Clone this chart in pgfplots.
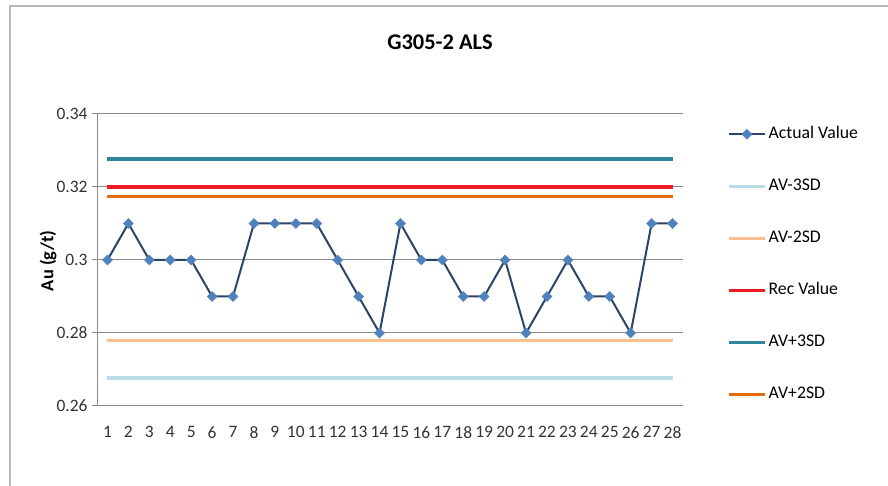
\documentclass[border=0pt]{standalone}
\usepackage{pgfplots}
\pgfplotsset{compat=1.18}
\usepackage{fontspec}
\setmainfont{Carlito}
\definecolor{actline}{HTML}{2B4468}
\definecolor{actmark}{HTML}{4F81BD}
\definecolor{avm3}{HTML}{B7DEE8}
\definecolor{avm2}{HTML}{FAC090}
\definecolor{recv}{HTML}{EE1C25}
\definecolor{avp3}{HTML}{31859C}
\definecolor{avp2}{HTML}{E46C0A}
\definecolor{gridc}{HTML}{8C8C8C}
\begin{document}
\begin{tikzpicture}
\useasboundingbox (0bp,0bp) rectangle (888bp,486bp);
\draw[color=gray!55, line width=1.5bp] (10bp,0bp) -- (10bp,480bp) -- (888bp,480bp);
\node[font=\fontsize{22.5}{26}\selectfont\bfseries] at (440bp,444bp) {G305-2 ALS};
\begin{axis}[
  at={(97bp,80bp)}, anchor=south west,
  scale only axis, width=586bp, height=292bp,
  xmin=0.5, xmax=28.5, ymin=0.26, ymax=0.34,
  xtick={1,...,28},
  ytick={0.26,0.28,0.30,0.32,0.34},
  yticklabels={0.26,0.28,0.3,0.32,0.34},
  axis x line*=bottom, axis y line*=left,
  axis line style={draw=gridc, line width=1bp},
  x axis line style={-}, y axis line style={-},
  ymajorgrids, major grid style={draw=gridc, line width=1bp},
  tick align=outside, major tick length=5bp,
  xtick style={draw=none}, ytick style={draw=gridc, line width=1bp},
  /pgf/number format/assume math mode=true,
  tick label style={font=\fontsize{17.5}{20}\selectfont, text=black!80},
  xticklabel style={yshift=-12bp},
  yticklabel style={xshift=-1bp},
  ylabel={Au (g/t)},
  ylabel style={at={(axis description cs:-0.0836,0.497)}, anchor=center, font=\fontsize{18.5}{22}\selectfont\bfseries},
  legend image code/.code={\draw[#1, mark repeat=2, mark phase=2] plot coordinates {(0bp,0bp) (18bp,0bp) (36bp,0bp)};},
  legend cell align=left,
  legend style={draw=none, fill=none, at={(1.075,0.962)}, anchor=north west, inner sep=0pt,
    row sep=34bp, font=\fontsize{17.8}{20}\selectfont,
    nodes={text height=11bp, text depth=3bp, inner sep=2bp}},
]
\addplot[color=actline, line width=2bp, mark=square*, mark size=3.5bp, mark options={rotate=45, draw=actmark, fill=actmark, line width=0.5bp}] coordinates {
(1,0.30) (2,0.31) (3,0.30) (4,0.30) (5,0.30) (6,0.29) (7,0.29) (8,0.31) (9,0.31) (10,0.31)
(11,0.31) (12,0.30) (13,0.29) (14,0.28) (15,0.31) (16,0.30) (17,0.30) (18,0.29) (19,0.29) (20,0.30)
(21,0.28) (22,0.29) (23,0.30) (24,0.29) (25,0.29) (26,0.28) (27,0.31) (28,0.31)};
\addlegendentry{Actual Value}
\addplot[color=avm3, line width=3.5bp] coordinates {(1,0.2677) (28,0.2677)};
\addlegendentry{AV-3SD}
\addplot[color=avm2, line width=3.5bp] coordinates {(1,0.2779) (28,0.2779)};
\addlegendentry{AV-2SD}
\addplot[color=recv, line width=3.5bp] coordinates {(1,0.32) (28,0.32)};
\addlegendentry{Rec Value}
\addplot[color=avp3, line width=3.5bp] coordinates {(1,0.3277) (28,0.3277)};
\addlegendentry{AV+3SD}
\addplot[color=avp2, line width=3.5bp] coordinates {(1,0.3174) (28,0.3174)};
\addlegendentry{AV+2SD}
\end{axis}
\end{tikzpicture}
\end{document}
